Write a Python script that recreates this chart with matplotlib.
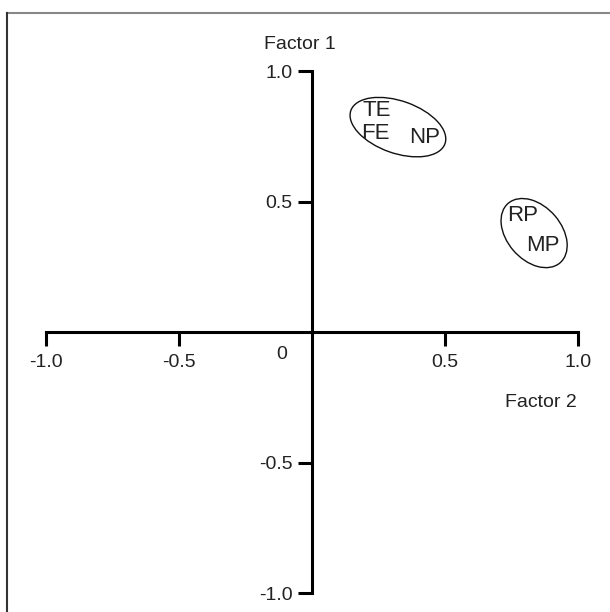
import matplotlib
matplotlib.use("Agg")
import matplotlib.pyplot as plt
from matplotlib.patches import Ellipse
from matplotlib.lines import Line2D

plt.rcParams['font.family'] = ['Liberation Sans', 'DejaVu Sans']

# Data
labels = ["TE", "FE", "NP", "RP", "MP"]
factor2 = [0.244, 0.24, 0.425, 0.79, 0.868]
factor1 = [0.85, 0.76, 0.747, 0.448, 0.333]
ticks = [-1.0, -0.5, 0.5, 1.0]
tick_labels = ["-1.0", "-0.5", "0.5", "1.0"]
# cluster ellipses: center x, center y, width, height, angle
clusters_cx = [0.323, 0.835]
clusters_cy = [0.785, 0.379]
clusters_w = [0.376, 0.30]
clusters_h = [0.20, 0.205]
clusters_ang = [-20, -50]

W, H = 610, 612
fig = plt.figure(figsize=(W / 100, H / 100), dpi=100)
ax = fig.add_axes([0, 0, 1, 1])
ax.set_xlim(-312 / 266, (W - 312) / 266)
ax.set_ylim(-280 / 261, (H - 280) / 261)

txt_color = "#222222"
for s in ["top", "right"]:
    ax.spines[s].set_visible(False)
ax.spines["bottom"].set_position(("data", 0))
ax.spines["left"].set_position(("data", 0))
ax.spines["bottom"].set_bounds(-1, 1)
ax.spines["left"].set_bounds(-1, 1)
for s in ["bottom", "left"]:
    ax.spines[s].set_linewidth(2.2)
    ax.spines[s].set_color("black")

ax.set_xticks(ticks)
ax.set_xticklabels(tick_labels)
ax.set_yticks(ticks)
ax.set_yticklabels(tick_labels)
ax.tick_params(axis="x", direction="out", length=10, width=2.2, pad=6,
               labelsize=14, labelcolor=txt_color)
ax.tick_params(axis="y", direction="out", length=10, width=2.2, pad=4,
               labelsize=14, labelcolor=txt_color)

ax.text(-0.113, -0.088, "0", fontsize=14, color=txt_color, ha="center", va="center")
ax.text(-0.045, 1.10, "Factor 1", fontsize=14, color=txt_color, ha="center", va="center")
ax.text(0.861, -0.272, "Factor 2", fontsize=14, color=txt_color, ha="center", va="center")

for lab, x, y in zip(labels, factor2, factor1):
    ax.text(x, y, lab, fontsize=16, color=txt_color, ha="center", va="center")

for cx, cy, w, h, a in zip(clusters_cx, clusters_cy, clusters_w, clusters_h, clusters_ang):
    ax.add_patch(Ellipse((cx, cy), w, h, angle=a, fill=False, edgecolor="#111111", lw=1.0))

# Outer frame lines (top and left)
fig.add_artist(Line2D([7 / W, 1], [1 - 13 / H, 1 - 13 / H], transform=fig.transFigure,
                      color="#888888", lw=1.5))
fig.add_artist(Line2D([7 / W, 7 / W], [0, 1 - 13 / H], transform=fig.transFigure,
                      color="#333333", lw=1.5))

fig.savefig("out.png", dpi=100)
